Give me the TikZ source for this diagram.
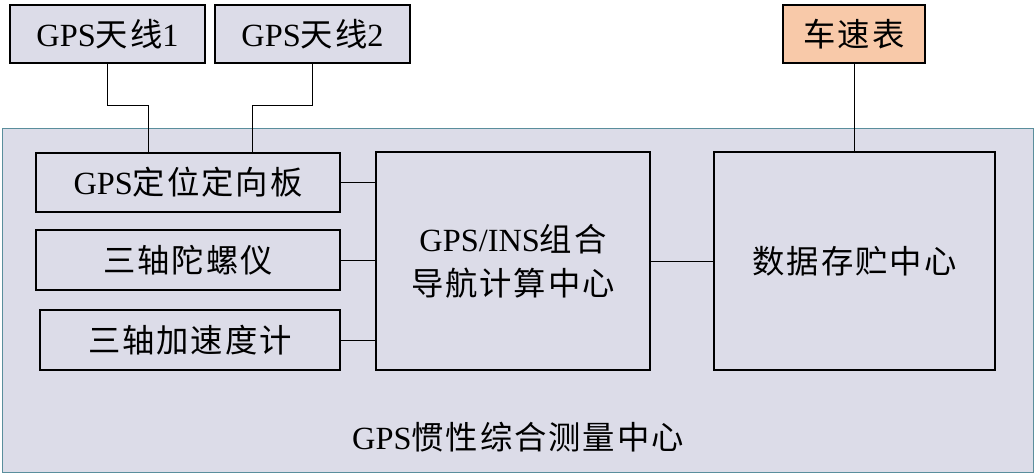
\documentclass[tikz,border=0pt]{standalone}
\usepackage{fontspec}
\setmainfont{Liberation Serif}
\newfontfamily\cjk[LetterSpace=6]{Noto Sans CJK SC}
\definecolor{panel}{HTML}{DCDCE8}
\definecolor{rim}{HTML}{5A8E9C}
\definecolor{meter}{HTML}{F8C9A9}
\begin{document}
\begin{tikzpicture}[x=0.025cm,y=-0.025cm,
  box/.style={draw,thick,fill=panel,inner sep=0pt,font=\fontsize{23}{27}\selectfont},
  link/.style={draw,semithick}]
% Definisci le dimensioni
\useasboundingbox (0,0) rectangle (1036,475);
\draw[rim,semithick,fill=panel] (2,128) rectangle (1033,472);
\node[font=\fontsize{23}{27}\selectfont] (titolo) at (518,437) {GPS\cjk 惯性综合测量中心};

% Antenne e tachimetro
\node[box,minimum width=4.875cm,minimum height=1.45cm] (ant1) at (107.5,34) {GPS\cjk 天线\rmfamily 1};
\node[box,minimum width=4.875cm,minimum height=1.45cm] (ant2) at (312.5,34) {GPS\cjk 天线\rmfamily 2};
\node[box,fill=meter,minimum width=3.55cm,minimum height=1.45cm] (tachi) at (854,34) {\cjk 车速表};

% Sensori
\node[box,minimum width=7.6cm,minimum height=1.475cm] (piastra) at (188,182.5) {GPS\cjk 定位定向板};
\node[box,minimum width=7.6cm,minimum height=1.5cm] (giro) at (188,260) {\cjk 三轴陀螺仪};
\node[box,minimum width=7.5cm,minimum height=1.5cm] (accel) at (190,340) {\cjk 三轴加速度计};

% Centri
\node[box,minimum width=6.85cm,minimum height=5.45cm,align=center] (calcolo) at (513,261) {GPS/INS\cjk 组合\\[4pt]\cjk 导航计算中心};
\node[box,minimum width=7.025cm,minimum height=5.45cm] (dati) at (854.5,261) {\cjk 数据存贮中心};

% Collegamenti
\draw[link] (ant1.south) -- ++(0,42) -| (piastra.north -| 148,0);
\draw[link] (ant2.south) -- ++(0,42) -| (piastra.north -| 252,0);
\draw[link] (tachi.south) -- (dati.north -| tachi.south);
\foreach \s in {piastra,giro,accel}
  \draw[link] (\s.east) -- (calcolo.west |- \s.east);
\draw[link] (calcolo.east) -- (dati.west);
\end{tikzpicture}
\end{document}
